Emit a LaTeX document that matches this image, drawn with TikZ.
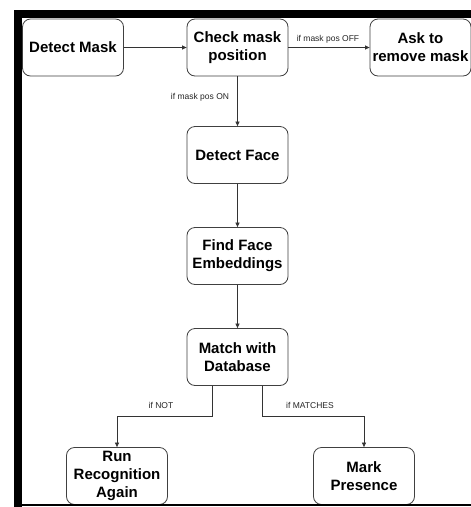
\documentclass[tikz,border=0pt]{standalone}
\usepackage{fontspec}
\setmainfont{Liberation Sans}
\usetikzlibrary{arrows.meta,positioning}
\begin{document}
\begin{tikzpicture}[x=1pt,y=-1pt,
  stepbox/.style={draw=black!75,line width=0.8pt,rounded corners=8pt,fill=white,
    minimum width=101pt,minimum height=57pt,align=center,
    font=\fontsize{15}{18}\selectfont\bfseries,inner sep=1pt},
  conn/.style={draw=black!80,line width=0.7pt,-{Triangle[length=4.5pt,width=4pt]}},
  lbl/.style={font=\fontsize{8.5}{10}\selectfont,text=black!85,inner sep=0pt}]
\useasboundingbox (0,0) rectangle (471,507);
\fill[white] (0,0) rectangle (471,507);
% frame
\fill[black] (14,10) rectangle (471,18.3);
\fill[black] (14,10) rectangle (21.7,507);
\fill[black] (14,504.4) rectangle (471,506);
% nodes
\node[stepbox] (dm) at (73,47.5) {Detect Mask};
\node[stepbox] (cm) at (237.5,47.5) {Check mask\\position};
\node[stepbox] (ask) at (420.5,47.5) {Ask to\\remove mask};
\node[stepbox] (df) at (237.5,155) {Detect Face};
\node[stepbox] (ff) at (237.5,256) {Find Face\\Embeddings};
\node[stepbox] (mdb) at (237.5,357) {Match with\\Database};
\node[stepbox] (run) at (117,476) {Run\\Recognition\\Again};
\node[stepbox] (mark) at (364,476) {Mark\\Presence};
% redraw bottom frame line over boxes
\fill[black] (14,504.4) rectangle (471,506);
% connectors
\draw[conn] (dm) -- (cm);
\draw[conn] (cm) -- (ask);
\draw[conn] (cm) -- (df);
\draw[conn] (df) -- (ff);
\draw[conn] (ff) -- (mdb);
\coordinate (bl) at (212.5,416.7);
\coordinate (br) at (262.5,416.7);
\draw[conn] ([xshift=-25pt]mdb.south) -- (bl) -| (run.north);
\draw[conn] ([xshift=25pt]mdb.south) -- (br) -| (mark.north);
% labels
\node[lbl] (l1) at (328,39) {if mask pos OFF};
\node[lbl] (l2) at (200,97) {if mask pos ON};
\node[lbl] (l3) at (161,405) {if NOT};
\node[lbl] (l4) at (310,405) {if MATCHES};
\end{tikzpicture}
\end{document}
